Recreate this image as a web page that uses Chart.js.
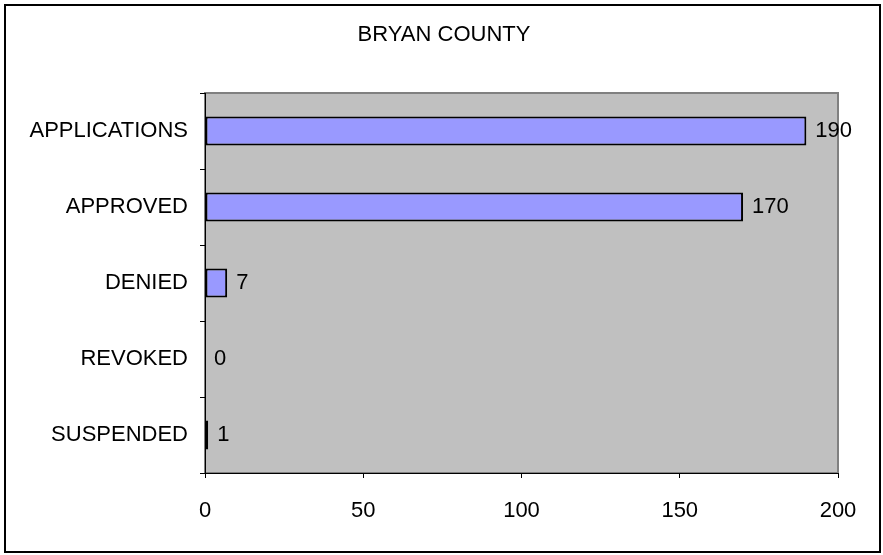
<!DOCTYPE html>
<html>
<head>
<meta charset="utf-8">
<script src="https://cdn.jsdelivr.net/npm/chart.js@4/dist/chart.umd.min.js"></script>
<style>
  html, body { margin: 0; padding: 0; background: #fff; }
  #wrap { width: 883px; height: 555px; }
</style>
</head>
<body>
<div id="wrap"><canvas id="countyChart" width="883" height="555"></canvas></div>
<script>
const categories = ["APPLICATIONS", "APPROVED", "DENIED", "REVOKED", "SUSPENDED"];
const counts = [190, 170, 7, 0, 1];
const xTicks = [0, 50, 100, 150, 200];
const chartTitle = "BRYAN COUNTY";

const fontFamily = "'Liberation Sans', Arial, sans-serif";

// gray plot area, outer frame and the title
const framePlugin = {
  id: "frame",
  beforeDraw(chart) {
    const ctx = chart.ctx;
    const a = chart.chartArea;
    ctx.save();
    ctx.fillStyle = "#ffffff";
    ctx.fillRect(0, 0, chart.width, chart.height);
    ctx.fillStyle = "#c0c0c0";
    ctx.fillRect(a.left, a.top, a.right - a.left, a.bottom - a.top);
    ctx.strokeStyle = "#808080";
    ctx.lineWidth = 2;
    ctx.strokeRect(a.left, a.top, a.right - a.left, a.bottom - a.top);
    ctx.strokeStyle = "#000000";
    ctx.lineWidth = 2;
    ctx.strokeRect(5, 5, 875, 547);

    ctx.fillStyle = "#000";
    ctx.font = "22px " + fontFamily;
    ctx.textAlign = "center";
    ctx.textBaseline = "middle";
    ctx.fillText(chartTitle, 444, 35);
    ctx.restore();
  }
};

// value labels at bar ends
const valueLabels = {
  id: "valueLabels",
  afterDatasetsDraw(chart) {
    const ctx = chart.ctx;
    const meta = chart.getDatasetMeta(0);
    ctx.save();
    ctx.fillStyle = "#000";
    ctx.font = "22px " + fontFamily;
    ctx.textAlign = "left";
    ctx.textBaseline = "middle";
    meta.data.forEach((bar, i) => {
      ctx.fillText(String(counts[i]), bar.x + 9, bar.y);
    });
    ctx.restore();
  }
};

new Chart(document.getElementById("countyChart").getContext("2d"), {
  type: "bar",
  data: {
    labels: categories,
    datasets: [{
      data: counts,
      backgroundColor: "#9999ff",
      borderColor: "#000000",
      borderWidth: 2,
      borderSkipped: false,
      categoryPercentage: 1,
      barPercentage: 0.38
    }]
  },
  options: {
    indexAxis: "y",
    responsive: false,
    animation: false,
    layout: { padding: { left: 0, right: 45, top: 93, bottom: 0 } },
    plugins: {
      legend: { display: false },
      tooltip: { enabled: false },
      title: { display: false }
    },
    scales: {
      x: {
        min: 0,
        max: 200,
        afterBuildTicks(scale) {
          scale.ticks = xTicks.map(v => ({ value: v }));
        },
        afterFit(scale) { scale.height = 82; },
        border: { display: true, color: "#000", width: 1 },
        grid: { drawOnChartArea: false, drawTicks: true, tickLength: 5, color: "#000" },
        ticks: {
          color: "#000",
          padding: 20,
          maxRotation: 0,
          font: { family: fontFamily, size: 22 }
        }
      },
      y: {
        afterFit(scale) { scale.width = 205; },
        border: { display: true, color: "#000", width: 1 },
        grid: { offset: true, drawOnChartArea: false, drawTicks: true, tickLength: 5, color: "#000" },
        ticks: {
          color: "#000",
          padding: 12,
          font: { family: fontFamily, size: 22 }
        }
      }
    }
  },
  plugins: [framePlugin, valueLabels]
});
</script>
</body>
</html>
